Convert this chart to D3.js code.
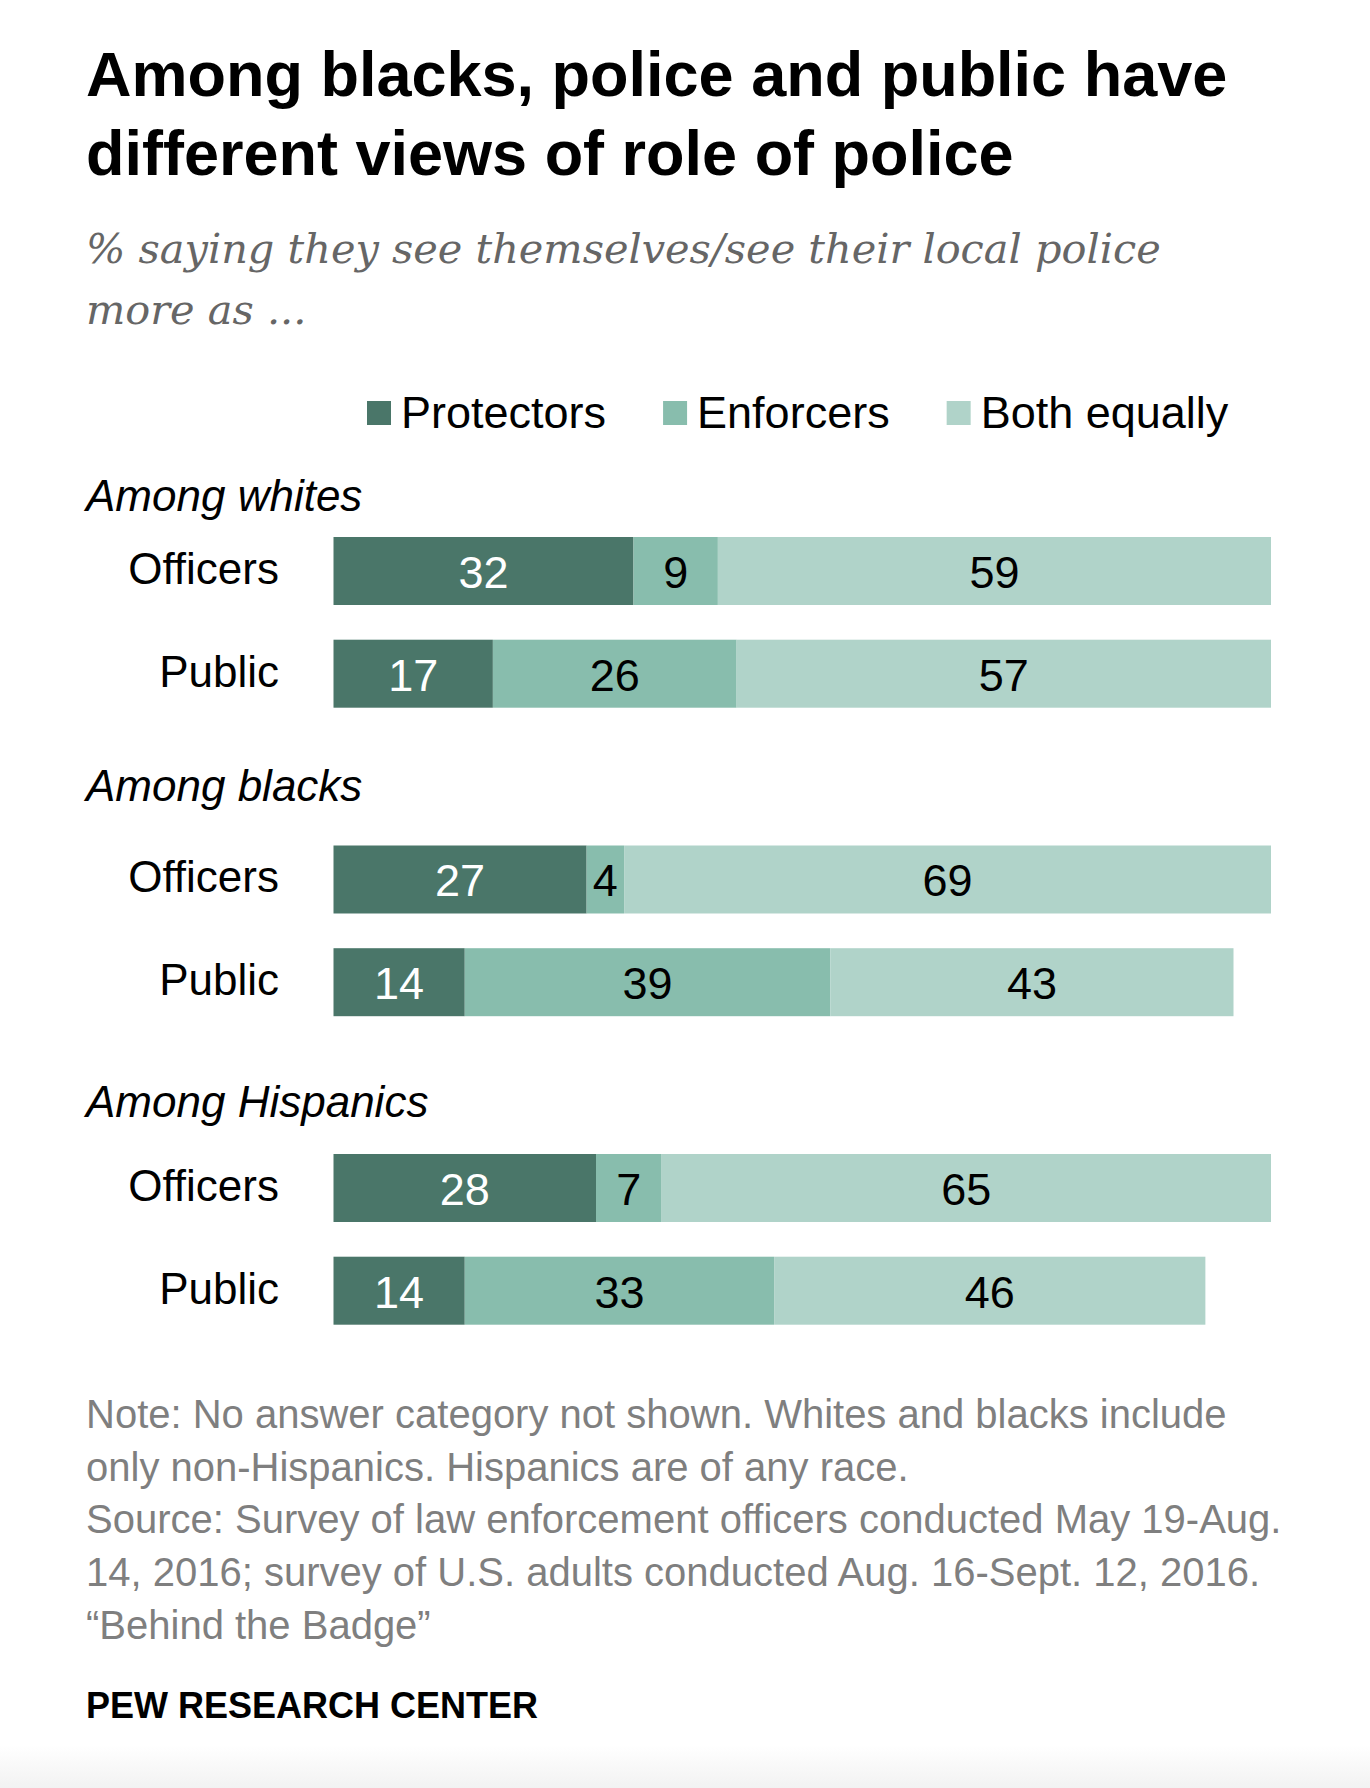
<!DOCTYPE html>
<html>
<head>
<meta charset="utf-8">
<script src="https://cdn.jsdelivr.net/npm/d3@7"></script>
<style>
  body { margin: 0; background: #fff; }
  svg { display: block; }
  text { font-family: "Liberation Sans", Arial, sans-serif; }
</style>
</head>
<body>
<div id="chart"></div>
<script>
// data
const groups = ['Among whites', 'Among blacks', 'Among Hispanics'];
const rows = ['Officers', 'Public'];
const series = ['Protectors', 'Enforcers', 'Both equally'];
const protectors = [32, 17, 27, 14, 28, 14];
const enforcers = [9, 26, 4, 39, 7, 33];
const bothEqually = [59, 57, 69, 43, 65, 46];

const titleLines = ['Among blacks, police and public have', 'different views of role of police'];
const subtitleLines = ['% saying they see themselves/see their local police', 'more as ...'];
const noteLines = [
  'Note: No answer category not shown. Whites and blacks include',
  'only non-Hispanics. Hispanics are of any race.',
  'Source: Survey of law enforcement officers conducted May 19-Aug.',
  '14, 2016; survey of U.S. adults conducted Aug. 16-Sept. 12, 2016.',
  '\u201cBehind the Badge\u201d'
];

const W = 1370, H = 1788;
const colors = ['#4a7669', '#88bdad', '#b0d3c9'];
const labelColors = ['#fff', '#000', '#000'];

// build table for stacking
const table = protectors.map((d, i) => ({
  group: groups[Math.floor(i / rows.length)],
  row: rows[i % rows.length],
  Protectors: d,
  Enforcers: enforcers[i],
  'Both equally': bothEqually[i]
}));
const stacked = d3.stack().keys(series)(table);

const svg = d3.select('#chart').append('svg')
  .attr('width', W).attr('height', H);

// faint grey fade at the very bottom
const defs = svg.append('defs');
const fade = defs.append('linearGradient').attr('id', 'fade')
  .attr('x1', 0).attr('y1', 0).attr('x2', 0).attr('y2', 1);
fade.append('stop').attr('offset', '0%').attr('stop-color', '#fff');
fade.append('stop').attr('offset', '100%').attr('stop-color', '#f2f2f2');
svg.append('rect').attr('x', 0).attr('y', 1745).attr('width', W).attr('height', H - 1745)
  .attr('fill', 'url(#fade)');

// title
svg.append('g').selectAll('text').data(titleLines).enter().append('text')
  .attr('x', 86).attr('y', (d, i) => 96 + i * 79)
  .style('font-weight', 'bold').style('font-size', '63px').style('fill', '#000')
  .text(d => d);

// subtitle, sized to the width of the original
const sub = svg.append('g').selectAll('text').data(subtitleLines).enter().append('text')
  .attr('x', 86).attr('y', (d, i) => 263 + i * 61)
  .style('font-family', '"DejaVu Serif", Georgia, serif')
  .style('font-style', 'italic').style('font-size', '40px').style('fill', '#666')
  .text(d => d);
const subW = sub.node().getComputedTextLength();
sub.style('font-size', (40 * 1075 / subW) + 'px');

// legend
const legend = svg.append('g').attr('transform', 'translate(367,0)');
let lx = 0;
series.forEach((s, i) => {
  legend.append('rect').attr('x', lx).attr('y', 401).attr('width', 24).attr('height', 24)
    .attr('fill', colors[i]);
  const t = legend.append('text').attr('x', lx + 34).attr('y', 428)
    .style('font-size', '45px').style('fill', '#000').text(s);
  lx += 34 + t.node().getComputedTextLength() + 57;
});

// scales
const x = d3.scaleLinear().domain([0, 100]).range([333.5, 1271]);
const yGroup = d3.scaleLinear().domain([0, groups.length - 1]).range([537, 1154]);
const yRow = d3.scaleBand().domain(rows).range([0, 170.7]).paddingInner(0.338);
const rowY = d => yGroup(groups.indexOf(d.data.group)) + yRow(d.data.row);
const groupLabelY = [511, 801, 1117];

// group labels
svg.append('g').selectAll('text').data(groups).enter().append('text')
  .attr('x', 86).attr('y', (d, i) => groupLabelY[i])
  .style('font-size', '44px').style('font-style', 'italic').style('fill', '#000')
  .text(d => d);

// row labels
svg.append('g').selectAll('text').data(table).enter().append('text')
  .attr('x', 279)
  .attr('y', d => yGroup(groups.indexOf(d.group)) + yRow(d.row) + yRow.bandwidth() / 2 + 13)
  .attr('text-anchor', 'end')
  .style('font-size', '44px').style('fill', '#000')
  .text(d => d.row);

// bars
const layers = svg.append('g').selectAll('g').data(stacked).enter().append('g')
  .attr('fill', (d, i) => colors[i]);

layers.selectAll('rect').data(d => d).enter().append('rect')
  .attr('x', d => x(d[0]))
  .attr('y', rowY)
  .attr('width', d => x(d[1]) - x(d[0]))
  .attr('height', yRow.bandwidth());

// value labels
layers.each(function (layer, i) {
  d3.select(this).selectAll('text').data(layer).enter().append('text')
    .attr('x', d => (x(d[0]) + x(d[1])) / 2)
    .attr('y', d => rowY(d) + yRow.bandwidth() / 2 + 17)
    .attr('text-anchor', 'middle')
    .style('font-size', '45px').style('fill', labelColors[i])
    .text(d => d[1] - d[0]);
});

// notes
svg.append('g').selectAll('text').data(noteLines).enter().append('text')
  .attr('x', 86).attr('y', (d, i) => 1428 + i * 52.7)
  .style('font-size', '40px').style('fill', '#7f7f7f')
  .text(d => d);

svg.append('text')
  .attr('x', 86).attr('y', 1718)
  .style('font-size', '36px').style('font-weight', 'bold').style('fill', '#000')
  .text('PEW RESEARCH CENTER');
</script>
</body>
</html>
